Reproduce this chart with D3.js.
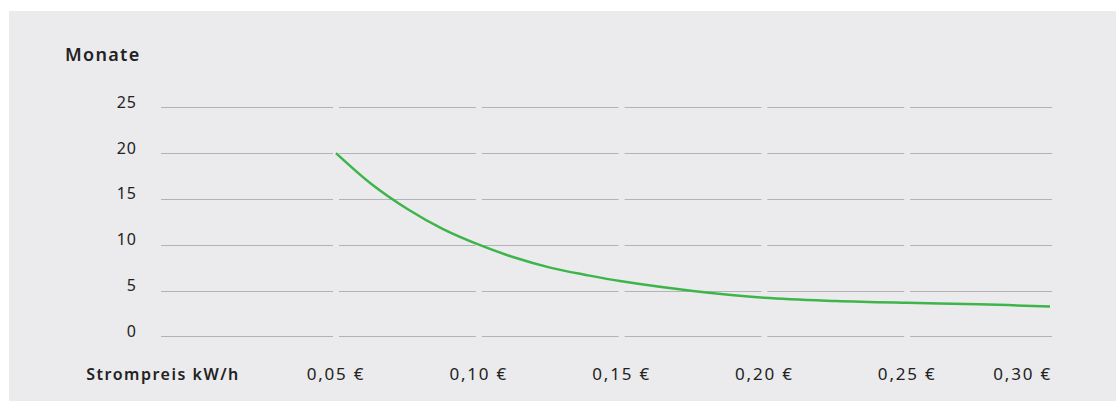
<!DOCTYPE html>
<html>
<head>
<meta charset="utf-8">
<script src="https://cdn.jsdelivr.net/npm/d3@7"></script>
<style>
  body { margin: 0; background: #fff; }
  text { font-family: "Noto Sans", sans-serif; fill: #222; }
</style>
</head>
<body>
<div id="chart"></div>
<script>
// Strompreis (EUR/kWh) und Amortisation in Monaten
var prices = [0.05, 0.0625, 0.075, 0.0875, 0.10, 0.1125, 0.125, 0.1375, 0.15, 0.175, 0.20, 0.225, 0.25, 0.275, 0.30]
var months = [20, 16.6, 13.9, 11.7, 10, 8.6, 7.5, 6.7, 6.0, 4.95, 4.2, 3.85, 3.65, 3.5, 3.25]
var xTicks = [0.05, 0.10, 0.15, 0.20, 0.25, 0.30]
var xTickLabels = ["0,05 €", "0,10 €", "0,15 €", "0,20 €", "0,25 €", "0,30 €"]
var yTicks = [0, 5, 10, 15, 20, 25]

var width = 1116, height = 401
var gridLeft = 161, gridRight = 1052, gap = 6

var svg = d3.select("#chart").append("svg").attr("width", width).attr("height", height)

// panel
svg.append("rect").attr("x", 9).attr("y", 11).attr("width", width - 9).attr("height", height - 11).attr("fill", "#ebebed")

var x = d3.scaleLinear().domain([0.05, 0.30]).range([336, 1050])
var y = d3.scaleLinear().domain([0, 25]).range([336.3, 107.3])

// grid: broken at each x tick
var cuts = [gridLeft].concat(xTicks.slice(0, -1).map(d => x(d)), [gridRight])
var segs = []
for (var i = 0; i < cuts.length - 1; i++) {
  segs.push([i == 0 ? cuts[i] : cuts[i] + gap / 2, i == cuts.length - 2 ? cuts[i + 1] : cuts[i + 1] - gap / 2])
}

var grid = svg.append("g").attr("stroke", "#b3b3b5").attr("stroke-width", 1)
yTicks.forEach(function(t) {
  grid.selectAll(null).data(segs).join("line")
    .attr("x1", d => d[0]).attr("x2", d => d[1])
    .attr("y1", Math.round(y(t)) + 0.5).attr("y2", Math.round(y(t)) + 0.5)
})

// y labels
svg.append("g").selectAll("text").data(yTicks).join("text")
  .attr("x", 137).attr("y", d => y(d) + 0.5)
  .attr("text-anchor", "end")
  .style("font-size", "16px").style("letter-spacing", "1px")
  .text(d => d)

svg.append("text").attr("x", 65).attr("y", 61)
  .style("font-size", "18px").style("font-weight", "600").style("letter-spacing", "1.3px")
  .text("Monate")

// x labels
svg.append("g").selectAll("text").data(xTicks).join("text")
  .attr("x", (d, i) => i == xTicks.length - 1 ? gridRight : x(d))
  .attr("y", 380)
  .attr("text-anchor", (d, i) => i == xTicks.length - 1 ? "end" : "middle")
  .style("font-size", "17px").style("letter-spacing", "1.8px")
  .text((d, i) => xTickLabels[i])

svg.append("text").attr("x", 163).attr("y", 380).attr("text-anchor", "middle")
  .style("font-size", "16px").style("font-weight", "600").style("letter-spacing", "1.5px")
  .text("Strompreis kW/h")

// curve
var line = d3.line().x(d => x(d[0])).y(d => y(d[1])).curve(d3.curveCatmullRom)
svg.append("path").datum(prices.map((p, i) => [p, months[i]]))
  .attr("fill", "none").attr("stroke", "#3db54a").attr("stroke-width", 2.5)
  .attr("d", line)
</script>
</body>
</html>
